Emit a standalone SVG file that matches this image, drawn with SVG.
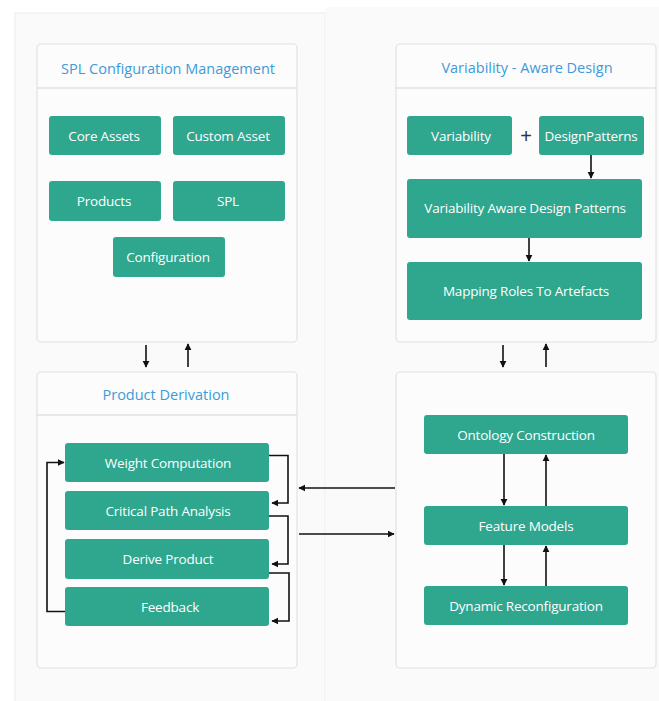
<svg xmlns="http://www.w3.org/2000/svg" width="659" height="701" viewBox="0 0 659 701">
<defs>
<style>
.bg{fill:#fafafa;stroke:#ebebeb;stroke-width:1}
.panel{fill:#fcfcfc;stroke:#e2e2e2;stroke-width:1.2}
.sep{stroke:#e2e2e2;stroke-width:1.5}
.title{font-family:"Open Sans","Noto Sans",sans-serif;font-size:14.5px;fill:#3d9bd8;text-anchor:middle;dominant-baseline:central}
.node rect{fill:#2fa68e}
.node text{font-family:"Open Sans","Noto Sans",sans-serif;font-size:13.5px;letter-spacing:-0.2px;fill:#ffffff;text-anchor:middle;dominant-baseline:central}
.plus{font-family:"Liberation Sans",sans-serif;font-size:20px;fill:#333;text-anchor:middle;dominant-baseline:central}
.conn path,.conn line{fill:none;stroke:#111;stroke-width:1.6}
</style>
<marker id="ah" viewBox="0 0 10 10" refX="9" refY="5" markerWidth="4.4" markerHeight="4.4" orient="auto" markerUnits="strokeWidth">
<path d="M0,0 L10,5 L0,10 z" fill="#111"/>
</marker>
</defs>
<rect x="0" y="0" width="659" height="701" fill="#ffffff"/>
<rect class="bg" x="15" y="13" width="310" height="700"/>
<rect x="325.5" y="7" width="334" height="694" fill="#fafafa"/>

<g id="panel-spl">
<rect class="panel" x="37" y="44" width="260" height="298" rx="4"/>
<line class="sep" x1="37" y1="88" x2="297" y2="88"/>
<text class="title" x="168" y="68">SPL Configuration  Management</text>
</g>
<g id="panel-vad">
<rect class="panel" x="396" y="44" width="260" height="298" rx="4"/>
<line class="sep" x1="396" y1="88" x2="656" y2="88"/>
<text class="title" x="527" y="67">Variability - Aware Design</text>
</g>
<g id="panel-pd">
<rect class="panel" x="37" y="372" width="260" height="296" rx="4"/>
<line class="sep" x1="37" y1="415" x2="297" y2="415"/>
<text class="title" x="166" y="394">Product Derivation</text>
</g>
<g id="panel-onto">
<rect class="panel" x="396" y="372" width="260" height="296" rx="4"/>
</g>

<g id="n-core" class="node"><rect x="49" y="116" width="112" height="39" rx="3"/><text x="104" y="135.5">Core Assets</text></g>
<g id="n-custom" class="node"><rect x="173" y="116" width="112" height="39" rx="3"/><text x="228" y="135.5">Custom Asset</text></g>
<g id="n-products" class="node"><rect x="49" y="181" width="112" height="40" rx="3"/><text x="104" y="201">Products</text></g>
<g id="n-spl" class="node"><rect x="173" y="181" width="112" height="40" rx="3"/><text x="228" y="201">SPL</text></g>
<g id="n-config" class="node"><rect x="113" y="237" width="112" height="40" rx="3"/><text x="168" y="257">Configuration</text></g>

<g id="n-variability" class="node"><rect x="407" y="116" width="105" height="39" rx="3"/><text x="461" y="135.5">Variability</text></g>
<text class="plus" x="526" y="136">+</text>
<g id="n-designpatterns" class="node"><rect x="539" y="116" width="105" height="39" rx="3"/><text x="591" y="135.5">DesignPatterns</text></g>
<g id="n-vadp" class="node"><rect x="407" y="179" width="235" height="59" rx="3"/><text x="525" y="208">Variability Aware Design Patterns</text></g>
<g id="n-mapping" class="node"><rect x="407" y="262" width="235" height="58" rx="3"/><text x="526" y="291">Mapping Roles To Artefacts</text></g>

<g id="n-weight" class="node"><rect x="65" y="443" width="204" height="39" rx="3"/><text x="168" y="462.5">Weight Computation</text></g>
<g id="n-critical" class="node"><rect x="65" y="491" width="204" height="39" rx="3"/><text x="168" y="510.5">Critical Path Analysis</text></g>
<g id="n-derive" class="node"><rect x="65" y="539" width="204" height="40" rx="3"/><text x="168" y="559">Derive Product</text></g>
<g id="n-feedback" class="node"><rect x="65" y="587" width="204" height="39" rx="3"/><text x="170" y="606.5">Feedback</text></g>

<g id="n-ontology" class="node"><rect x="424" y="415" width="204" height="39" rx="3"/><text x="526" y="434.5">Ontology Construction</text></g>
<g id="n-feature" class="node"><rect x="424" y="506" width="204" height="39" rx="3"/><text x="526" y="525.5">Feature Models</text></g>
<g id="n-dynamic" class="node"><rect x="424" y="586" width="204" height="39" rx="3"/><text x="526" y="605.5">Dynamic Reconfiguration</text></g>

<g id="connectors" class="conn">
<line x1="146" y1="345" x2="146" y2="367" marker-end="url(#ah)"/>
<line x1="188" y1="367" x2="188" y2="344" marker-end="url(#ah)"/>
<line x1="503" y1="345" x2="503" y2="367" marker-end="url(#ah)"/>
<line x1="546" y1="367" x2="546" y2="344" marker-end="url(#ah)"/>
<line x1="591" y1="155" x2="591" y2="178" marker-end="url(#ah)"/>
<line x1="529" y1="238" x2="529" y2="261" marker-end="url(#ah)"/>
<path d="M269,455.5 H288 V503 H272" marker-end="url(#ah)"/>
<path d="M269,516 H288 V564 H272" marker-end="url(#ah)"/>
<path d="M269,573 H289 V621 H272" marker-end="url(#ah)"/>
<path d="M65,611.5 H47 V462.5 H64" marker-end="url(#ah)"/>
<line x1="395" y1="488" x2="299" y2="488" marker-end="url(#ah)"/>
<line x1="299" y1="534" x2="394" y2="534" marker-end="url(#ah)"/>
<line x1="504" y1="454" x2="504" y2="505" marker-end="url(#ah)"/>
<line x1="546" y1="506" x2="546" y2="455" marker-end="url(#ah)"/>
<line x1="504" y1="545" x2="504" y2="585" marker-end="url(#ah)"/>
<line x1="546" y1="586" x2="546" y2="546" marker-end="url(#ah)"/>
</g>
</svg>
